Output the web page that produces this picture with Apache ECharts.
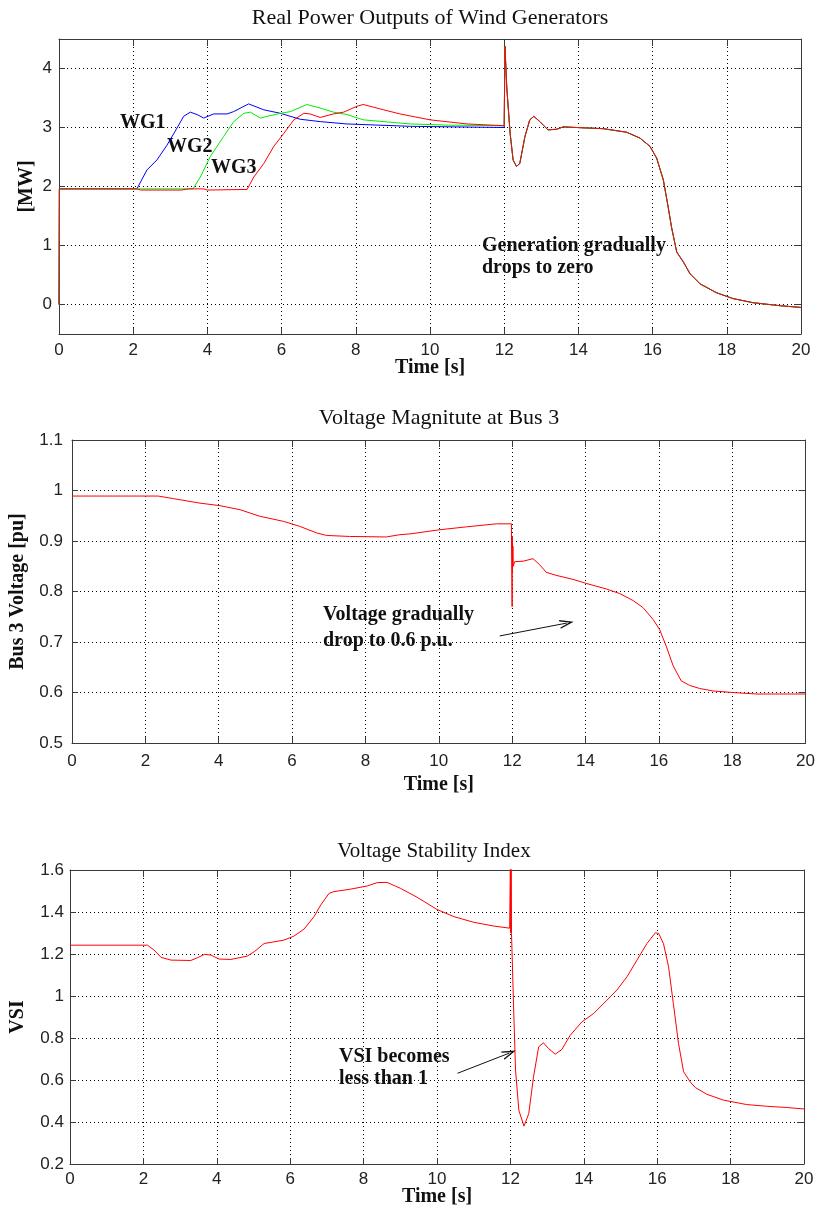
<!DOCTYPE html>
<html>
<head>
<meta charset="utf-8">
<script src="https://cdn.jsdelivr.net/npm/echarts@6/dist/echarts.min.js"></script>
<style>
  html, body { margin: 0; padding: 0; background: #ffffff; }
  #chart { width: 818px; height: 1212px; }
</style>
</head>
<body>
<div id="chart"></div>
<script>
// ---- Panel 1: real power outputs of the wind generators [MW] ----
const wg1Power = [
  [0, 0], [0.01, 1.96], [2.1, 1.96], [2.37, 2.28], [2.64, 2.45], [2.91, 2.70],
  [3.18, 2.99], [3.36, 3.19], [3.54, 3.26], [3.72, 3.22], [3.9, 3.16], [4.17, 3.23],
  [4.53, 3.23], [4.71, 3.27], [5.11, 3.40], [5.52, 3.30], [5.97, 3.24], [6.5, 3.14],
  [7.04, 3.10], [7.76, 3.06], [9.47, 3.02], [12.0, 3.0]
];
const wg2Power = [
  [0, 0], [0.01, 1.96], [3.61, 1.96], [3.81, 2.16], [4.08, 2.51], [4.44, 2.85],
  [4.71, 3.10], [4.98, 3.24], [5.16, 3.26], [5.43, 3.16], [5.61, 3.19], [5.97, 3.24],
  [6.24, 3.27], [6.68, 3.39], [7.04, 3.33], [7.4, 3.26], [7.76, 3.22], [8.2, 3.13],
  [9.47, 3.06], [10.5, 3.04], [12.0, 3.03]
];
const wg3Power = [
  [0, 0], [0.01, 1.96], [2.1, 1.96], [2.2, 1.94], [3.3, 1.94], [3.5, 1.96], [3.9, 1.96],
  [4.0, 1.94], [5.07, 1.95], [5.25, 2.16], [5.52, 2.39], [5.79, 2.68], [6.06, 2.90],
  [6.33, 3.13], [6.6, 3.24], [6.77, 3.23], [7.04, 3.17], [7.4, 3.23], [7.67, 3.26],
  [8.03, 3.36], [8.2, 3.39], [8.75, 3.30], [9.19, 3.23], [10.0, 3.13], [11.0, 3.06],
  [12.0, 3.03]
];
// all three units follow the same trajectory once the disturbance hits at t = 12 s
const wgPowerAfterFault = [
  [12.02, 4.38], [12.07, 3.67], [12.16, 2.90], [12.24, 2.45], [12.33, 2.34], [12.42, 2.39],
  [12.56, 2.85], [12.69, 3.13], [12.8, 3.19], [12.96, 3.10], [13.18, 2.96], [13.41, 2.97],
  [13.59, 3.01], [13.95, 3.0], [14.67, 2.98], [15.3, 2.92], [15.66, 2.82], [15.93, 2.68],
  [16.11, 2.48], [16.29, 2.11], [16.42, 1.65], [16.51, 1.31], [16.65, 0.89], [16.83, 0.72],
  [17.01, 0.52], [17.28, 0.35], [17.72, 0.20], [18.17, 0.10], [18.71, 0.03], [19.43, -0.02],
  [20.0, -0.05]
];
const powerTicks = [0, 1, 2, 3, 4];

// ---- Panel 2: bus 3 voltage magnitude [pu] ----
const bus3Voltage = [
  [0, 0.989], [2.35, 0.989], [2.76, 0.984], [3.49, 0.975], [4.03, 0.970], [4.58, 0.962],
  [5.12, 0.949], [5.76, 0.939], [6.21, 0.929], [6.67, 0.916], [6.94, 0.911], [7.57, 0.909],
  [8.57, 0.908], [8.94, 0.9125], [9.21, 0.914], [10.0, 0.922], [10.75, 0.928],
  [11.57, 0.934], [11.98, 0.934], [12.0, 0.77], [12.005, 0.91], [12.01, 0.84],
  [12.02, 0.89], [12.03, 0.85], [12.07, 0.859], [12.3, 0.86], [12.57, 0.865],
  [12.75, 0.853], [12.93, 0.838], [13.2, 0.832], [13.66, 0.824], [14.02, 0.816],
  [14.57, 0.805], [14.93, 0.796], [15.3, 0.782], [15.57, 0.768], [15.84, 0.745],
  [16.02, 0.725], [16.2, 0.692], [16.39, 0.653], [16.61, 0.623], [16.84, 0.614],
  [17.11, 0.608], [17.48, 0.603], [18.02, 0.600], [18.66, 0.597], [20.0, 0.597]
];

// ---- Panel 3: voltage stability index ----
const vsiValues = [
  [0, 1.242], [2.11, 1.242], [2.29, 1.219], [2.48, 1.184], [2.75, 1.171], [3.29, 1.169],
  [3.47, 1.182], [3.66, 1.198], [3.84, 1.195], [4.06, 1.176], [4.38, 1.174], [4.83, 1.190],
  [5.02, 1.211], [5.29, 1.250], [5.56, 1.258], [5.83, 1.266], [6.1, 1.285], [6.38, 1.319],
  [6.65, 1.378], [6.83, 1.433], [7.06, 1.489], [7.19, 1.497], [7.65, 1.509], [8.1, 1.524],
  [8.37, 1.540], [8.64, 1.541], [9.0, 1.513], [9.46, 1.470], [10.0, 1.412], [10.46, 1.378],
  [11.0, 1.351], [11.55, 1.333], [11.98, 1.323], [12.0, 1.65], [12.01, 1.30], [12.02, 1.65],
  [12.03, 1.298], [12.09, 0.933], [12.14, 0.647], [12.23, 0.456], [12.37, 0.380],
  [12.5, 0.440], [12.63, 0.615], [12.77, 0.758], [12.9, 0.777], [13.04, 0.750],
  [13.22, 0.723], [13.4, 0.745], [13.63, 0.813], [13.95, 0.877], [14.27, 0.917],
  [14.63, 0.980], [14.9, 1.028], [15.18, 1.092], [15.45, 1.171], [15.72, 1.250],
  [15.95, 1.301], [16.04, 1.298], [16.17, 1.250], [16.31, 1.139], [16.44, 0.964],
  [16.58, 0.774], [16.72, 0.639], [16.9, 0.591], [17.04, 0.564], [17.35, 0.532],
  [17.81, 0.504], [18.44, 0.483], [18.98, 0.475], [19.53, 0.469], [20.0, 0.462]
];

// annotation arrows, given in data coordinates [time, value]
const voltageArrow = [[11.66, 0.712], [13.49, 0.7375]];
const vsiArrow = [[10.56, 0.632], [11.97, 0.728]];

const SERIF = '"Liberation Serif", "Times New Roman", serif';
const SANS = '"Liberation Sans", Arial, sans-serif';
const FRAME = '#3a3a3a';
const OPEN_ARROW = 'path://M0,10 L5,0 L10,10 L8.4,10 L5,3.2 L1.6,10 Z';

const grids = [
  { left: 59, top: 39, width: 742, height: 295 },
  { left: 72, top: 440, width: 734, height: 303 },
  { left: 69, top: 870, width: 735, height: 294 }
];

function bottomX(gridIndex, labelMargin, nameGap) {
  return {
    gridIndex, type: 'value', min: 0, max: 20, interval: 2, position: 'bottom',
    axisLine: { show: true, onZero: false, lineStyle: { color: FRAME, width: 1 } },
    axisTick: { show: true, inside: true, length: 6, lineStyle: { color: FRAME } },
    axisLabel: { margin: labelMargin, fontFamily: SANS, fontSize: 17, color: '#222' },
    splitLine: { show: true, lineStyle: { color: '#000', width: 1, type: [1, 3] } },
    name: 'Time [s]', nameLocation: 'middle', nameGap, nameMoveOverlap: false,
    nameTextStyle: { fontFamily: SERIF, fontWeight: 'bold', fontSize: 20, color: '#111' }
  };
}
function topX(gridIndex) {
  return {
    gridIndex, type: 'value', min: 0, max: 20, interval: 2, position: 'top',
    axisLine: { show: true, onZero: false, lineStyle: { color: FRAME, width: 1 } },
    axisTick: { show: true, inside: true, length: 7, lineStyle: { color: FRAME } },
    axisLabel: { show: false }, splitLine: { show: false }
  };
}
function leftY(gridIndex, range, name, nameGap, labelMargin) {
  return Object.assign({
    gridIndex, type: 'value', position: 'left',
    axisLine: { show: true, onZero: false, lineStyle: { color: FRAME, width: 1 } },
    axisTick: { show: true, inside: true, length: 6, lineStyle: { color: FRAME } },
    axisLabel: { margin: labelMargin, fontFamily: SANS, fontSize: 17, color: '#222' },
    splitLine: { show: true, lineStyle: { color: '#000', width: 1, type: [1, 3] } },
    name, nameLocation: 'middle', nameGap, nameRotate: 90, nameMoveOverlap: false,
    nameTextStyle: { fontFamily: SERIF, fontWeight: 'bold', fontSize: 20, color: '#111' }
  }, range);
}
function rightY(gridIndex, range) {
  return Object.assign({
    gridIndex, type: 'value', position: 'right',
    axisLine: { show: true, onZero: false, lineStyle: { color: FRAME, width: 1 } },
    axisTick: { show: true, inside: true, length: 7, lineStyle: { color: FRAME } },
    axisLabel: { show: false }, splitLine: { show: false }
  }, range);
}

const voltageRange = { min: 0.5, max: 1.1, interval: 0.1 };
const vsiRange = { min: 0.2, max: 1.6, interval: 0.2 };

const yAxes = [
  leftY(0, { min: -0.5, max: 4.5 }, '[MW]', 22, 7),
  leftY(1, voltageRange, 'Bus 3 Voltage [pu]', 44, 9),
  leftY(2, vsiRange, 'VSI', 42, 6),
  rightY(0, { min: -0.5, max: 4.5 }),
  rightY(1, voltageRange),
  rightY(2, vsiRange)
];
// power axis: ticks, labels and grid lines only at whole megawatts
yAxes[0].axisTick.customValues = powerTicks;
yAxes[0].axisLabel.customValues = powerTicks;
yAxes[3].axisTick.customValues = powerTicks;

function lineSeries(name, data, color, xi, yi, extra) {
  return Object.assign({
    name, type: 'line', xAxisIndex: xi, yAxisIndex: yi, data,
    showSymbol: false, symbol: 'none', clip: true, smooth: false,
    lineStyle: { color, width: 1 }, itemStyle: { color },
    emphasis: { disabled: true }, silent: true
  }, extra || {});
}
function arrowMark(points) {
  return {
    silent: true, animation: false,
    symbol: ['none', OPEN_ARROW], symbolSize: [9, 14],
    lineStyle: { color: '#111', width: 1, type: 'solid' },
    label: { show: false }, emphasis: { disabled: true },
    data: [[{ coord: points[0] }, { coord: points[1] }]]
  };
}

const boldText = (text, x, y) => ({
  type: 'text', x, y, silent: true,
  style: { text, font: 'bold 20px ' + SERIF, fill: '#111', verticalAlign: 'middle' }
});

const option = {
  backgroundColor: '#ffffff',
  animation: false,
  title: [
    { text: 'Real Power Outputs of Wind Generators', left: 430, top: 7, textAlign: 'center', padding: 0,
      textStyle: { fontFamily: SERIF, fontWeight: 'normal', fontSize: 22, color: '#111' } },
    { text: 'Voltage Magnitute at Bus 3', left: 439, top: 407, textAlign: 'center', padding: 0,
      textStyle: { fontFamily: SERIF, fontWeight: 'normal', fontSize: 22, color: '#111' } },
    { text: 'Voltage Stability Index', left: 434, top: 841, textAlign: 'center', padding: 0,
      textStyle: { fontFamily: SERIF, fontWeight: 'normal', fontSize: 21, color: '#111' } }
  ],
  grid: grids.map(g => Object.assign({ show: false, containLabel: false }, g)),
  xAxis: [bottomX(0, 8, 24), bottomX(1, 10, 32), bottomX(2, 7, 23), topX(0), topX(1), topX(2)],
  yAxis: yAxes,
  series: [
    lineSeries('WG1', wg1Power.concat(wgPowerAfterFault), '#0000ff', 0, 0),
    lineSeries('WG2', wg2Power.concat(wgPowerAfterFault), '#00ee00', 0, 0),
    lineSeries('WG3', wg3Power.concat(wgPowerAfterFault), '#ff0000', 0, 0),
    lineSeries('Bus 3 voltage', bus3Voltage, '#ff0000', 1, 1, { markLine: arrowMark(voltageArrow) }),
    lineSeries('VSI', vsiValues, '#ff0000', 2, 2, { markLine: arrowMark(vsiArrow) })
  ],
  graphic: [
    boldText('WG1', 120, 123),
    boldText('WG2', 167, 147),
    boldText('WG3', 211, 168),
    boldText('Generation gradually', 482, 246),
    boldText('drops to zero', 482, 268),
    boldText('Voltage gradually', 323, 615),
    boldText('drop to 0.6 p.u.', 323, 641),
    boldText('VSI becomes', 339, 1057),
    boldText('less than 1', 339, 1079)
  ]
};

const chart = echarts.init(document.getElementById('chart'), null, { renderer: 'canvas' });
chart.setOption(option);
</script>
</body>
</html>
